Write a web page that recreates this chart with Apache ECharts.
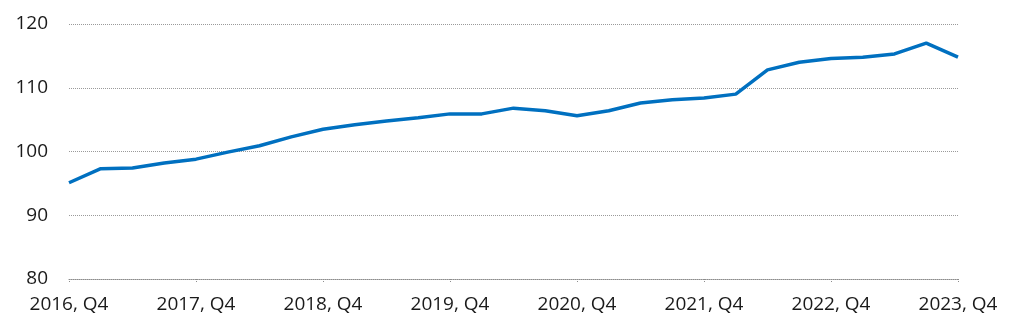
<!DOCTYPE html>
<html>
<head>
<meta charset="utf-8">
<script src="https://cdn.jsdelivr.net/npm/echarts@6/dist/echarts.min.js"></script>
<style>
  html, body { margin: 0; padding: 0; background: #fff; }
  #chart { width: 1024px; height: 336px; }
</style>
</head>
<body>
<div id="chart"></div>
<script>
// Quarterly index, 2016 Q4 – 2023 Q4
const quarters = [
  '2016, Q4',
  '2017, Q1', '2017, Q2', '2017, Q3', '2017, Q4',
  '2018, Q1', '2018, Q2', '2018, Q3', '2018, Q4',
  '2019, Q1', '2019, Q2', '2019, Q3', '2019, Q4',
  '2020, Q1', '2020, Q2', '2020, Q3', '2020, Q4',
  '2021, Q1', '2021, Q2', '2021, Q3', '2021, Q4',
  '2022, Q1', '2022, Q2', '2022, Q3', '2022, Q4',
  '2023, Q1', '2023, Q2', '2023, Q3', '2023, Q4'
];
const indexValues = [
  95.1,
  97.3, 97.4, 98.2, 98.8,
  99.9, 100.9, 102.3, 103.5,
  104.2, 104.8, 105.3, 105.9,
  105.9, 106.8, 106.4, 105.6,
  106.4, 107.6, 108.1, 108.4,
  109.0, 112.8, 114.0, 114.6,
  114.8, 115.3, 117.0, 114.8
];
const yTicks = [80, 90, 100, 110, 120];

const chart = echarts.init(document.getElementById('chart'), null, { renderer: 'canvas' });
const fontFamily = '"Open Sans", "Liberation Sans", sans-serif';

chart.setOption({
  animation: false,
  grid: { left: 69, right: 66, top: 24, bottom: 57 },
  xAxis: {
    type: 'category',
    data: quarters,
    boundaryGap: false,
    axisLine: { show: true, lineStyle: { color: '#8c8c8c', type: 'dotted', width: 1 } },
    axisTick: { show: true, interval: 3, length: 4, lineStyle: { color: '#8c8c8c', type: 'dotted' } },
    axisLabel: {
      interval: 3,
      margin: 16,
      color: '#1a1a1a',
      fontSize: 19,
      fontFamily: fontFamily
    },
    splitLine: { show: false }
  },
  yAxis: {
    type: 'value',
    min: yTicks[0],
    max: yTicks[yTicks.length - 1],
    interval: 10,
    axisLine: { show: false },
    axisTick: { show: false },
    axisLabel: {
      margin: 21,
      color: '#1a1a1a',
      fontSize: 19,
      fontFamily: fontFamily
    },
    splitLine: { show: true, lineStyle: { color: '#9a9a9a', type: 'dotted', width: 1 } }
  },
  series: [{
    type: 'line',
    data: indexValues,
    symbol: 'none',
    lineStyle: { color: '#0070C0', width: 3.5 },
    z: 3
  }]
});
</script>
</body>
</html>
